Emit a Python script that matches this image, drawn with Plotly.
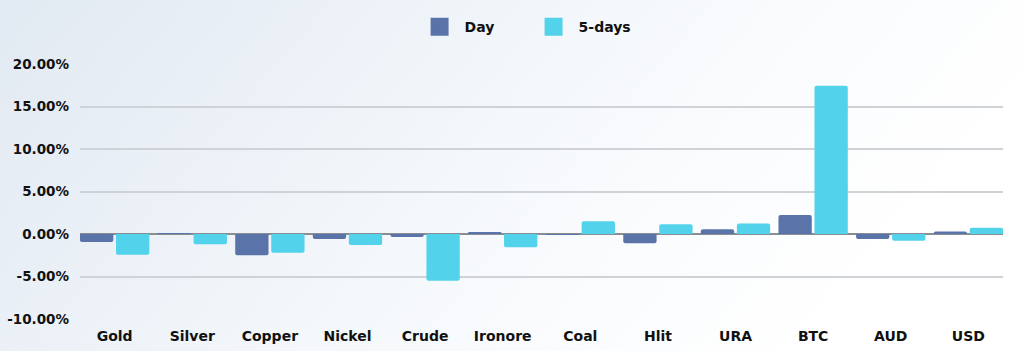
import plotly.graph_objects as go

categories = ["Gold", "Silver", "Copper", "Nickel", "Crude", "Ironore", "Coal", "Hlit", "URA", "BTC", "AUD", "USD"]
day_values = [-0.95, 0.1, -2.5, -0.6, -0.35, 0.15, -0.1, -1.1, 0.55, 2.25, -0.6, 0.3]
five_day_values = [-2.45, -1.2, -2.2, -1.3, -5.5, -1.55, 1.5, 1.15, 1.25, 17.45, -0.8, 0.75]
tick_values = [-10, -5, 0, 5, 10, 15, 20]
tick_labels = ["-10.00%", "-5.00%", "0.00%", "5.00%", "10.00%", "15.00%", "20.00%"]

DAY_COLOR = "#5a74a9"
FIVE_COLOR = "#53d2eb"
FONT = "DejaVu Sans"

fig = go.Figure()
fig.add_trace(go.Bar(x=categories, y=day_values, name="Day", marker_color=DAY_COLOR,
                     marker_line_width=0, showlegend=False))
fig.add_trace(go.Bar(x=categories, y=five_day_values, name="5-days", marker_color=FIVE_COLOR,
                     marker_line_width=0, showlegend=False))
# legend entries with larger square symbols
fig.add_trace(go.Scatter(x=[None], y=[None], mode="markers", name="Day",
                         marker=dict(symbol="square", size=16, color=DAY_COLOR,
                                     line=dict(width=2, color=DAY_COLOR))))
fig.add_trace(go.Scatter(x=[None], y=[None], mode="markers", name="5-days",
                         marker=dict(symbol="square", size=16, color=FIVE_COLOR,
                                     line=dict(width=2, color=FIVE_COLOR))))

bg_svg = ("data:image/svg+xml;utf8,<svg xmlns='http://www.w3.org/2000/svg' width='1024' height='351' "
          "preserveAspectRatio='none'><defs><linearGradient id='g' x1='0' y1='0' x2='1' y2='0.3'>"
          "<stop offset='0' stop-color='%23e1e9f2'/><stop offset='0.6' stop-color='%23f6f9fc'/>"
          "<stop offset='1' stop-color='%23ffffff'/></linearGradient></defs>"
          "<rect width='1024' height='351' fill='url(%23g)'/></svg>")

pad = 0.4465
fig.update_layout(
    width=1024, height=351,
    margin=dict(l=80, r=21, t=64, b=32, autoexpand=False),
    paper_bgcolor="#eef3f8",
    plot_bgcolor="rgba(0,0,0,0)",
    barmode="group",
    bargap=0.072,
    bargroupgap=0.075,
    barcornerradius=2,
    font=dict(family=FONT, size=13, color="#111111", weight="bold"),
    legend=dict(orientation="h", x=0.486, xanchor="center", y=1.145, yanchor="middle",
                font=dict(family=FONT, size=14, color="#111111", weight="bold"),
                bgcolor="rgba(0,0,0,0)", itemwidth=40, entrywidth=59),
    images=[dict(source=bg_svg, xref="paper", yref="paper", x=-80/923, y=1+64/255,
                 sizex=1024/923, sizey=351/255, sizing="stretch", layer="below",
                 xanchor="left", yanchor="top")],
    xaxis=dict(showgrid=False, showline=False, ticks="", tickfont=dict(size=14),
               range=[-pad, len(categories) - 1 + pad], ticklabelstandoff=7,
               fixedrange=True),
    yaxis=dict(range=[-10, 20], tickvals=tick_values, ticktext=tick_labels,
               showgrid=True, gridcolor="#cfd2d6", gridwidth=1.5,
               zeroline=True, zerolinecolor="#8a8d91", zerolinewidth=1.5,
               showline=False, ticks="", ticklabelstandoff=10, tickfont=dict(size=13.5)),
)

fig.write_html("out.html")
